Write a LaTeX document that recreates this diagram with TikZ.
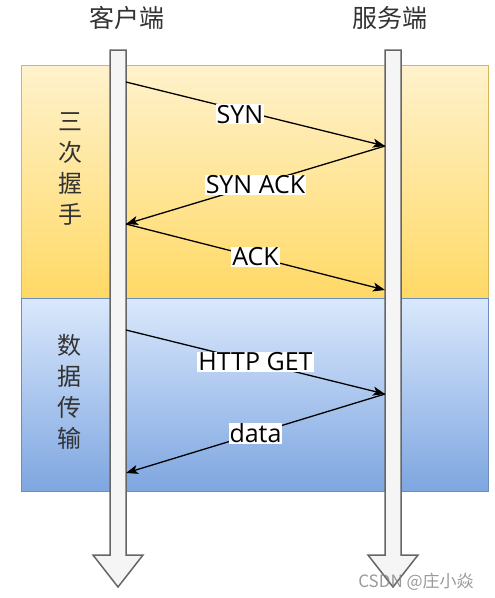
\documentclass[tikz,border=0pt]{standalone}
\usepackage{fontspec}
\setmainfont{Open Sans}
\newfontfamily\cjk{Noto Sans CJK SC}
\usetikzlibrary{arrows.meta}
\definecolor{gelbOben}{HTML}{FFF2CC}
\definecolor{gelbUnten}{HTML}{FFD966}
\definecolor{gelbRand}{HTML}{D6B656}
\definecolor{blauOben}{HTML}{DAE8FC}
\definecolor{blauUnten}{HTML}{7EA6E0}
\definecolor{blauRand}{HTML}{6C8EBF}
\definecolor{barGrau}{HTML}{F5F5F5}
\definecolor{randGrau}{HTML}{666666}
\definecolor{textGrau}{HTML}{333333}

\begin{document}
\begin{tikzpicture}[x=1pt,y=-1pt,
    lbl/.style={fill=white, inner sep=1pt, font=\fontsize{25}{25}\selectfont},
    msg/.style={line width=1.3pt, -{Stealth[length=12pt,width=9pt,inset=3pt]}},
    bar/.style={fill=barGrau, draw=randGrau, line width=1.5pt},
    titel/.style={font=\cjk\fontsize{25}{25}\selectfont, text=textGrau},
    phase/.style={font=\cjk\fontsize{24}{31}\selectfont, text=textGrau, align=center}]

        \useasboundingbox (0,0) rectangle (495,598);

        % Phasen
        \shadedraw[top color=gelbOben, bottom color=gelbUnten, draw=gelbRand] (21,65) rectangle (488,298);
        \shadedraw[top color=blauOben, bottom color=blauUnten, draw=blauRand] (21,298) rectangle (488,491);

        % Zeitachsen
        \draw[bar] (110,50) -- (126,50) -- (126,555) -- (143,555) -- (118,587) -- (93,555) -- (110,555) -- cycle;
        \draw[bar] (385,50) -- (401,50) -- (401,555) -- (418,555) -- (393,587) -- (368,555) -- (385,555) -- cycle;

        % Beschriftungen
        \node[titel] (client) at (127,18) {客户端};
        \node[titel] (server) at (390,18) {服务端};
        \node[phase] (hand) at (70,169) {三\\次\\握\\手};
        \node[phase] (daten) at (69,392) {数\\据\\传\\输};

        % Endpunkte der Nachrichten
        \coordinate (c1) at (126,82);
        \coordinate (s1) at (385,146);
        \coordinate (c2) at (126,224);
        \coordinate (s2) at (385,290);
        \coordinate (c3) at (126,330);
        \coordinate (s3) at (385,394);
        \coordinate (c4) at (126,473);

        % Nachrichten
        \draw[msg] (c1) -- node[lbl, pos=0.44, yshift=-4pt] {SYN} (s1);
        \draw[msg] (s1) -- node[lbl] {SYN ACK} (c2);
        \draw[msg] (c2) -- node[lbl] {ACK} (s2);
        \draw[msg] (c3) -- node[lbl] {HTTP GET} (s3);
        \draw[msg] (s3) -- node[lbl] {data} (c4);

        % Wasserzeichen
        \node[font=\cjk\fontsize{17}{17}\selectfont, text=gray, opacity=0.8] (wz) at (416,582) {CSDN @庄小焱};
\end{tikzpicture}
\end{document}
